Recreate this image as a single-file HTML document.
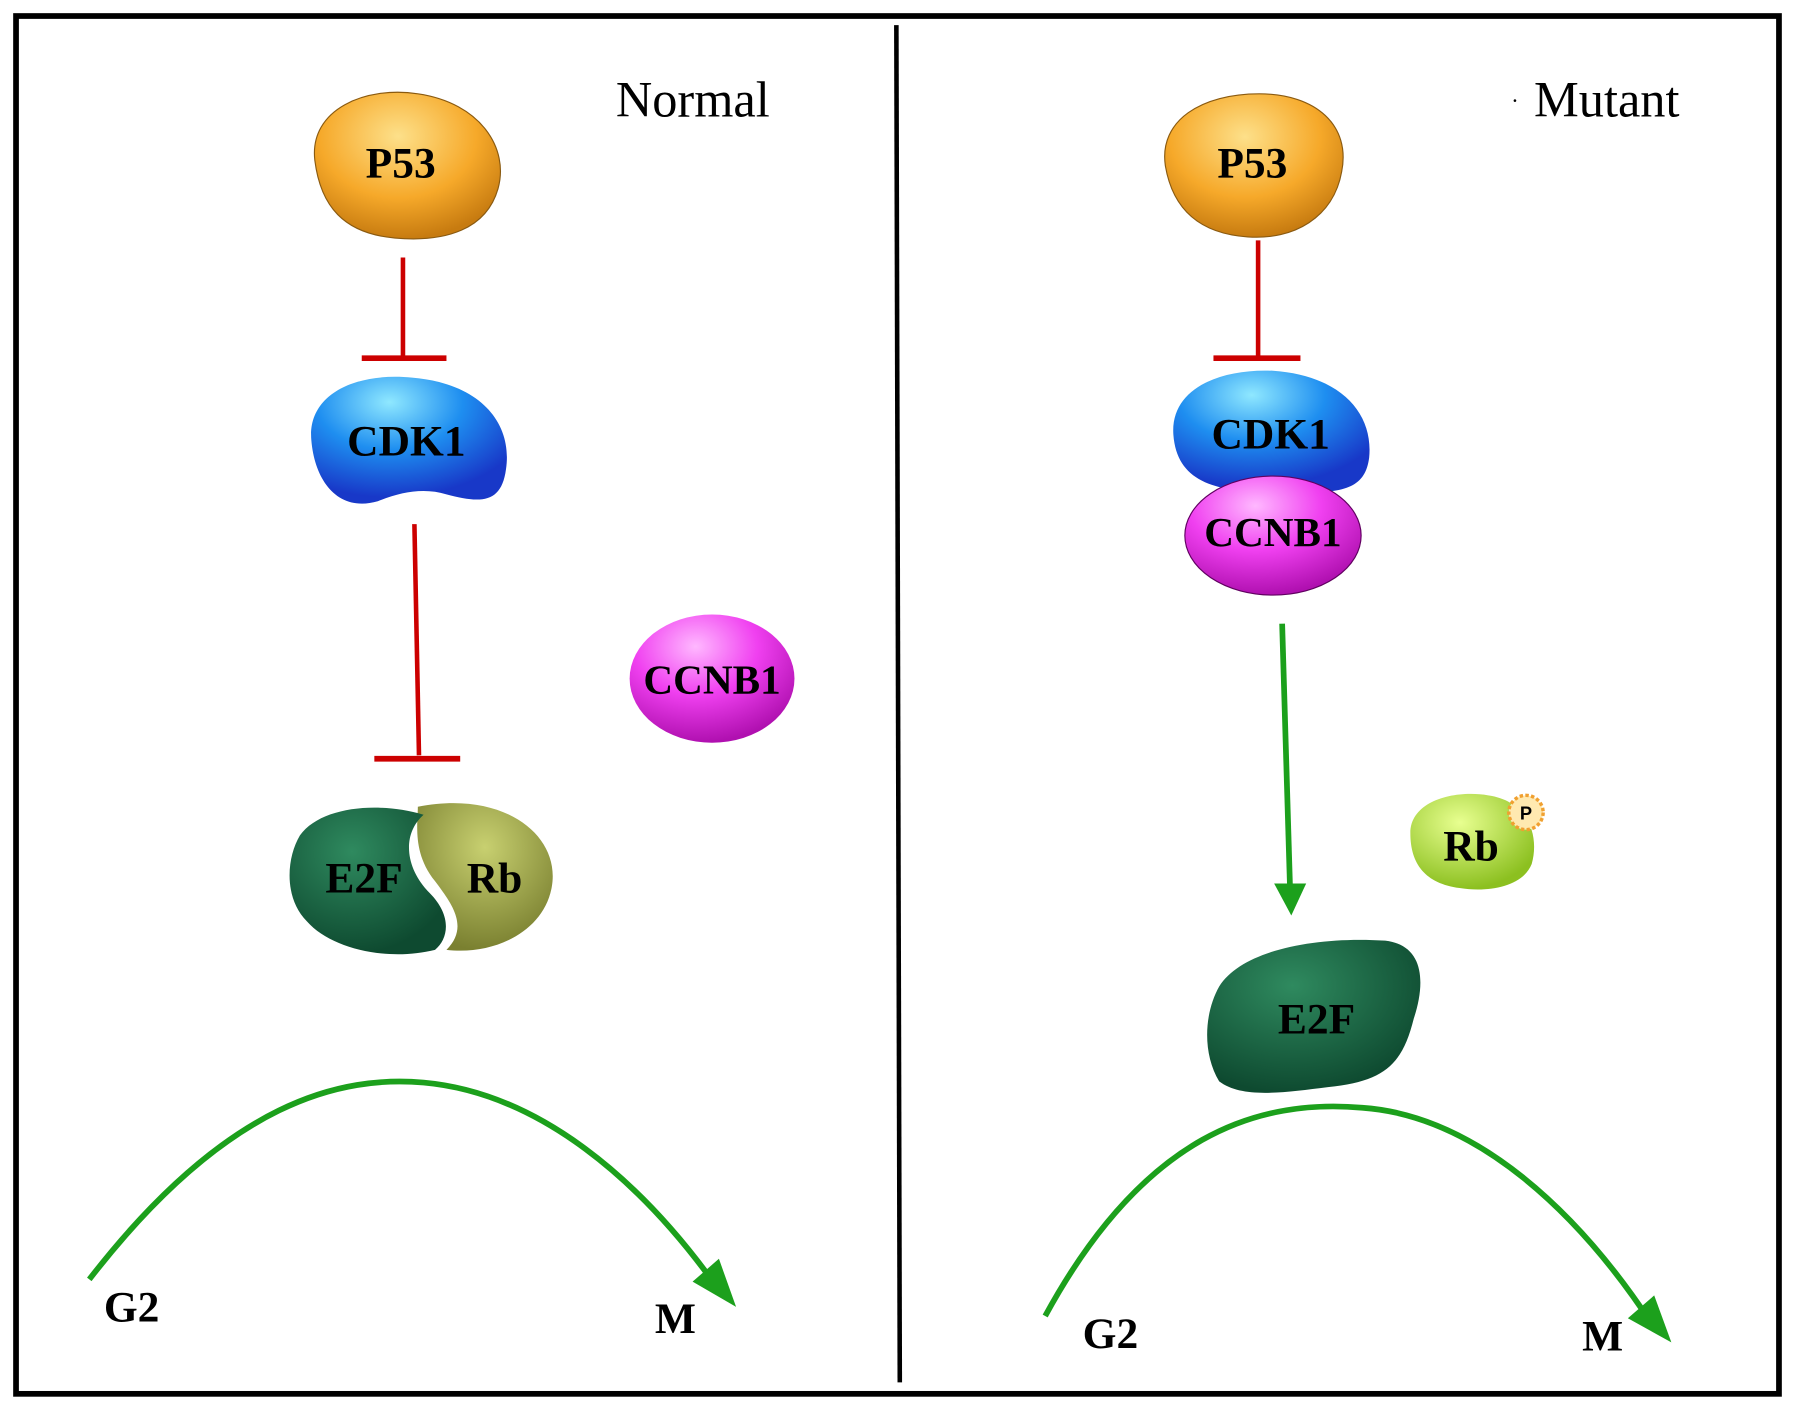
<!DOCTYPE html>
<html><head><style>html,body{margin:0;padding:0;background:#fff}svg{display:block}</style></head>
<body>
<svg width="1795" height="1411" viewBox="0 0 1568 1233" preserveAspectRatio="none" xmlns="http://www.w3.org/2000/svg" font-family="Liberation Serif, serif">
<defs>
<radialGradient id="or" cx="0.45" cy="0.3" r="0.7"><stop offset="0" stop-color="#fde08a"/><stop offset="0.6" stop-color="#f6a92a"/><stop offset="1" stop-color="#c77b10"/></radialGradient>
<radialGradient id="bl" cx="0.4" cy="0.2" r="0.75"><stop offset="0" stop-color="#8fe8ff"/><stop offset="0.5" stop-color="#1e8ef0"/><stop offset="1" stop-color="#1838c8"/></radialGradient>
<radialGradient id="pk" cx="0.4" cy="0.25" r="0.75"><stop offset="0" stop-color="#ffb8ff"/><stop offset="0.5" stop-color="#f040f0"/><stop offset="1" stop-color="#b010b0"/></radialGradient>
<radialGradient id="gr" cx="0.4" cy="0.3" r="0.7"><stop offset="0" stop-color="#2f8a5f"/><stop offset="1" stop-color="#0e4a30"/></radialGradient>
<radialGradient id="ol" cx="0.5" cy="0.3" r="0.7"><stop offset="0" stop-color="#c8d070"/><stop offset="1" stop-color="#7a8030"/></radialGradient>
<radialGradient id="lg" cx="0.4" cy="0.3" r="0.7"><stop offset="0" stop-color="#e8ff90"/><stop offset="1" stop-color="#8cc020"/></radialGradient>
</defs>
<rect x="14" y="14" width="1540" height="1204" fill="#fff" stroke="#000" stroke-width="5"/>
<line x1="783" y1="22" x2="786" y2="1208" stroke="#000" stroke-width="4"/>
<g font-size="44" fill="#000">
<text x="538" y="102">Normal</text>
<text x="1340" y="102">Mutant</text>
<text x="1320" y="95" font-size="20">·</text>
</g>
<path d="M275,140 C270,95 320,75 365,82 C420,90 445,130 435,165 C425,200 390,212 345,208 C300,204 280,180 275,140Z" fill="url(#or)" stroke="#8a5a10" stroke-width="1"/>
<line x1="352" y1="225" x2="352" y2="312" stroke="#c00" stroke-width="4"/>
<line x1="316" y1="313" x2="390" y2="313" stroke="#c00" stroke-width="5"/>
<path d="M272,385 C268,345 310,325 360,330 C420,335 448,370 442,410 C438,440 420,440 390,432 C370,426 350,430 330,438 C295,448 275,420 272,385Z" fill="url(#bl)"/>
<line x1="362" y1="458" x2="366" y2="660" stroke="#c00" stroke-width="4"/>
<line x1="327" y1="663" x2="402" y2="663" stroke="#c00" stroke-width="5"/>
<ellipse cx="622" cy="593" rx="72" ry="56" fill="url(#pk)"/>
<path d="M365,705 C440,690 490,730 482,775 C475,815 430,835 390,830 C410,810 395,790 380,770 C360,745 365,720 365,705Z" fill="url(#ol)"/>
<path d="M262,730 C280,705 330,700 370,712 C350,730 355,760 375,780 C395,800 392,820 380,830 C340,840 290,830 268,805 C248,785 250,750 262,730Z" fill="url(#gr)"/>
<path d="M78,1118 C200,960 300,940 370,946 C470,955 560,1030 630,1130" fill="none" stroke="#1ca01c" stroke-width="5"/>
<polygon points="643,1142 605,1120 628,1100" fill="#1ca01c"/>
<path d="M1018,145 C1012,105 1050,82 1100,82 C1150,82 1180,110 1172,150 C1165,190 1130,210 1090,207 C1045,204 1024,180 1018,145Z" fill="url(#or)" stroke="#8a5a10" stroke-width="1"/>
<line x1="1099" y1="210" x2="1099" y2="312" stroke="#c00" stroke-width="4"/>
<line x1="1060" y1="313" x2="1136" y2="313" stroke="#c00" stroke-width="5"/>
<path d="M1025,380 C1022,340 1065,322 1112,324 C1170,328 1200,360 1196,400 C1192,430 1170,432 1110,430 C1060,430 1028,420 1025,380Z" fill="url(#bl)"/>
<ellipse cx="1112" cy="468" rx="77" ry="52" fill="url(#pk)" stroke="#600060" stroke-width="1"/>
<line x1="1120" y1="545" x2="1127" y2="780" stroke="#1ca01c" stroke-width="5"/>
<polygon points="1113,772 1141,772 1128,800" fill="#1ca01c"/>
<path d="M1232,728 C1232,700 1270,690 1300,695 C1335,700 1345,730 1338,755 C1330,775 1300,780 1275,776 C1245,772 1232,755 1232,728Z" fill="url(#lg)"/>
<circle cx="1333" cy="710" r="15" fill="#ffe9b0" stroke="#f0a030" stroke-width="3" stroke-dasharray="3,2"/>
<text x="1333" y="716" font-size="16" font-weight="bold" text-anchor="middle" font-family="Liberation Sans, sans-serif">P</text>
<path d="M1065,862 C1085,830 1150,818 1210,822 C1245,826 1245,860 1235,890 C1225,930 1210,945 1160,950 C1120,955 1085,960 1065,945 C1050,920 1052,885 1065,862Z" fill="url(#gr)"/>
<path d="M913,1150 C1000,990 1100,960 1190,968 C1290,975 1380,1060 1445,1160" fill="none" stroke="#1ca01c" stroke-width="5"/>
<polygon points="1460,1173 1422,1152 1445,1132" fill="#1ca01c"/>
<g font-weight="bold" fill="#000" text-anchor="middle">
<text x="350" y="155" font-size="38">P53</text>
<text x="355" y="398" font-size="38">CDK1</text>
<text x="622" y="606" font-size="36">CCNB1</text>
<text x="318" y="780" font-size="38">E2F</text>
<text x="432" y="780" font-size="38">Rb</text>
<text x="115" y="1155" font-size="38">G2</text>
<text x="590" y="1165" font-size="38">M</text>
<text x="1094" y="155" font-size="38">P53</text>
<text x="1110" y="392" font-size="38">CDK1</text>
<text x="1112" y="477" font-size="36">CCNB1</text>
<text x="1285" y="752" font-size="38">Rb</text>
<text x="1150" y="903" font-size="38">E2F</text>
<text x="970" y="1178" font-size="38">G2</text>
<text x="1400" y="1180" font-size="38">M</text>
</g>
</svg>
</body></html>
